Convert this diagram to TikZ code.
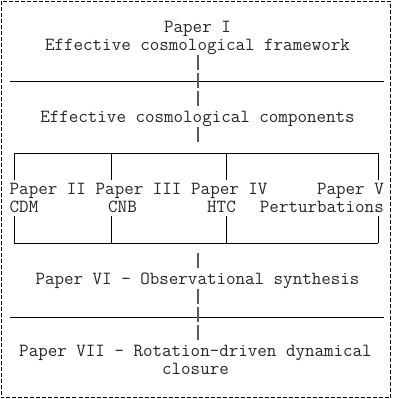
\documentclass[tikz,border=0pt]{standalone}
\usepackage{fontspec}
\usepackage{xcolor}
\usetikzlibrary{positioning}
\definecolor{spineGray}{HTML}{5A5A5A}

\tikzset{
    asciitext/.style={font=\ttfamily\fontsize{18.5}{18}\selectfont, inner sep=0pt, text=black!85},
    hrule/.style={line width=0.9pt, black},
    boxline/.style={line width=0.9pt, black},
    spine/.style={line width=2pt, spineGray, dash pattern=on 15pt off 3pt}
}

\begin{document}
\begin{tikzpicture}[x=1pt, y=-1pt]
    \useasboundingbox (0,0) rectangle (392,399);
    \draw[line width=0.9pt, dash pattern=on 4pt off 2pt] (1,1) rectangle (390.5,397.5);

    % text rows
    \node[asciitext, anchor=base] (paperI) at (197.5,32) {Paper I};
    \node[asciitext, anchor=base] (framework) at (197.5,50) {Effective cosmological framework};
    \node[asciitext, anchor=base] (components) at (197.5,122) {Effective cosmological components};
    \node[asciitext, anchor=base west] (paperII) at (9.5,194) {Paper II};
    \node[asciitext, anchor=base west] (cdm) at (9.5,212) {CDM};
    \node[asciitext, anchor=base west] (paperIII) at (95.5,194) {Paper III};
    \node[asciitext, anchor=base west] (cnb) at (108,212) {CNB};
    \node[asciitext, anchor=base west] (paperIV) at (191,194) {Paper IV};
    \node[asciitext, anchor=base west] (htc) at (207,212) {HTC};
    \node[asciitext, anchor=base east] (paperV) at (384,194) {Paper V};
    \node[asciitext, anchor=base east] (perturb) at (384,212) {Perturbations};
    \node[asciitext, anchor=base] (paperVI) at (197.5,284) {Paper VI - Observational synthesis};
    \node[asciitext, anchor=base] (paperVII) at (195.5,356) {Paper VII - Rotation-driven dynamical};
    \node[asciitext, anchor=base] (closure) at (195.5,374) {closure};

    % horizontal rules
    \coordinate (ruleAw) at (10,81);
    \coordinate (ruleAe) at (384,81);
    \coordinate (ruleBw) at (10,317);
    \coordinate (ruleBe) at (384,317);
    \draw[hrule] (ruleAw) -- (ruleAe);
    \draw[hrule] (ruleBw) -- (ruleBe);

    % bracket box of papers II--V
    \coordinate (boxNW) at (14,153);
    \coordinate (boxNE) at (378,153);
    \coordinate (boxSW) at (14,243);
    \coordinate (boxSE) at (378,243);
    \draw[boxline] (boxNW) -- (boxNE);
    \draw[boxline] (boxSW) -- (boxSE);
    \foreach \x in {14,111,226,378} {
        \draw[boxline] (\x,153) -- (\x,180);
        \draw[boxline] (\x,216) -- (\x,243);
    }

    % central spine
    \coordinate (spineA) at (197.5,55);
    \coordinate (spineB) at (197.5,108);
    \coordinate (spineC) at (197.5,127);
    \coordinate (spineD) at (197.5,144);
    \coordinate (spineE) at (197.5,253);
    \coordinate (spineF) at (197.5,270);
    \coordinate (spineG) at (197.5,289);
    \coordinate (spineH) at (197.5,342);
    \draw[spine] (spineA) -- (spineB);
    \draw[spine] (spineC) -- (spineD);
    \draw[spine] (spineE) -- (spineF);
    \draw[spine] (spineG) -- (spineH);
\end{tikzpicture}
\end{document}
